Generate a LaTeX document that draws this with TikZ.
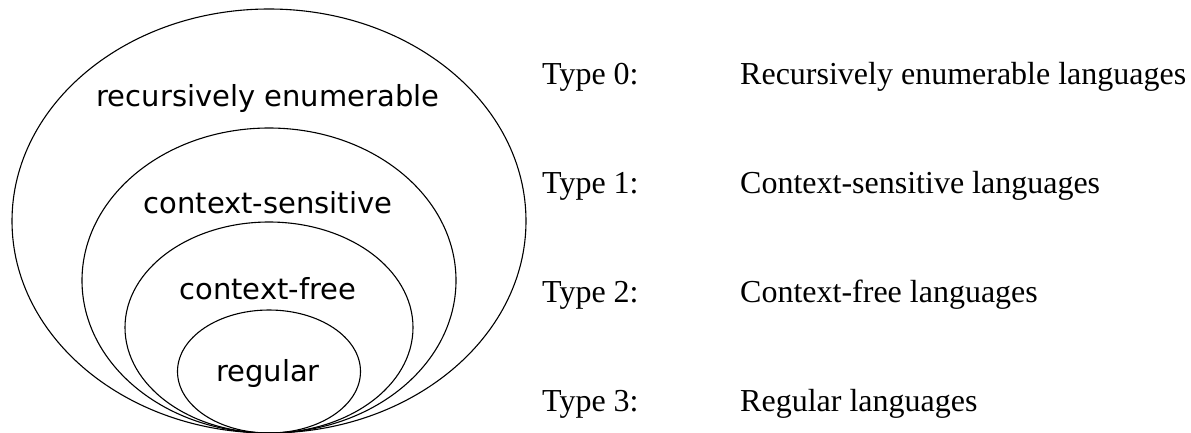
\documentclass[tikz,border=0pt]{standalone}
\usepackage{fontspec}
\setmainfont{Liberation Serif}
\newfontfamily\dejavu{DejaVu Sans}
\usetikzlibrary{shapes.geometric}
\begin{document}
\begin{tikzpicture}[x=1pt,y=-1pt,
  lang/.style={ellipse, draw, line width=1.1pt, inner sep=0pt, outer sep=0pt},
  inlabel/.style={anchor=base, font=\dejavu\fontsize{29}{33}\selectfont, inner sep=0pt},
  typelabel/.style={anchor=base west, font=\fontsize{32}{36}\selectfont, inner sep=0pt}]
\useasboundingbox (0,0) rectangle (1191,432);
% ellipses
\node[lang, minimum width=514pt, minimum height=424pt] (re) at (269,221) {};
\node[lang, minimum width=374pt, minimum height=305pt] (cs) at (269,280.5) {};
\node[lang, minimum width=288pt, minimum height=211pt] (cf) at (269,327.5) {};
\node[lang, minimum width=183pt, minimum height=123pt] (reg) at (269,371.5) {};
% labels inside
\node[inlabel] (lre) at (268,106) {recursively enumerable};
\node[inlabel] (lcs) at (268,213) {context-sensitive};
\node[inlabel] (lcf) at (268,299) {context-free};
\node[inlabel] (lreg) at (268,381) {regular};
% type list
\node[typelabel] (t0) at (542,84) {Type 0:};
\node[typelabel] (t1) at (542,193) {Type 1:};
\node[typelabel] (t2) at (542,302) {Type 2:};
\node[typelabel] (t3) at (542,411) {Type 3:};
\node[typelabel] (d0) at (740,84) {Recursively enumerable languages};
\node[typelabel] (d1) at (740,193) {Context-sensitive languages};
\node[typelabel] (d2) at (740,302) {Context-free languages};
\node[typelabel] (d3) at (740,411) {Regular languages};
\end{tikzpicture}
\end{document}
